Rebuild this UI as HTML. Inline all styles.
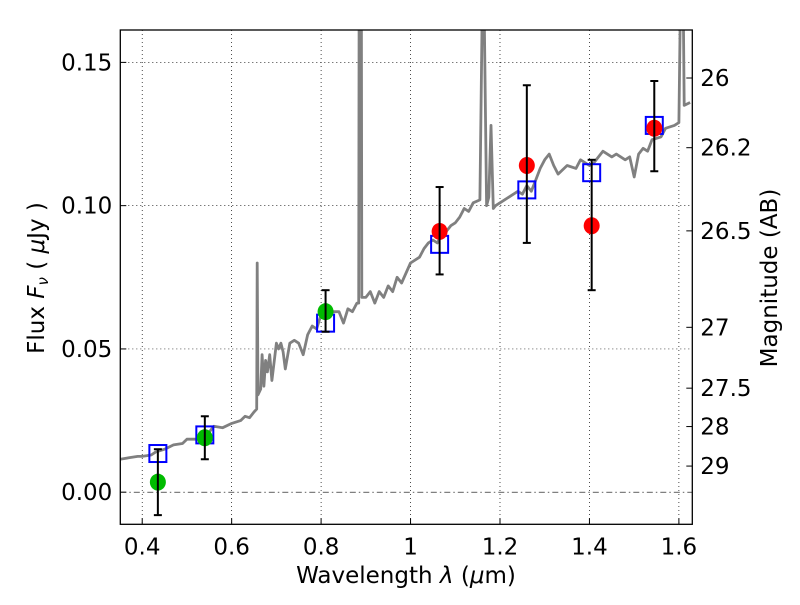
<!DOCTYPE html>
<html><head><meta charset="utf-8"><style>
body{margin:0;background:#fff}
svg text{font-family:"DejaVu Sans","Liberation Sans",sans-serif;fill:#000}
</style></head><body>
<svg id="chart" width="800" height="600" viewBox="0 0 800 600" xmlns="http://www.w3.org/2000/svg">
<rect width="800" height="600" fill="#fff"/>
<g id="grid"></g>
<g id="plot"></g>
<g id="axes"></g>
<text x="406" y="583" font-size="23" text-anchor="middle">Wavelength  <tspan font-style="italic">λ</tspan> (<tspan font-style="italic">μ</tspan>m)</text>
<text transform="translate(44,278) rotate(-90)" font-size="23" text-anchor="middle">Flux  <tspan font-style="italic">F</tspan><tspan font-style="italic" font-size="15" dy="4">ν</tspan><tspan dy="-4">  (  </tspan><tspan font-style="italic">μ</tspan>Jy )</text>
<text transform="translate(777,278) rotate(-90)" font-size="23" text-anchor="middle">Magnitude (AB)</text>
</svg>
<script>
const xTicks=[0.4,0.6,0.8,1.0,1.2,1.4,1.6];
const xTickLabels=["0.4","0.6","0.8","1","1.2","1.4","1.6"];
const yTicks=[0,0.05,0.10,0.15];
const yTickLabels=["0.00","0.05","0.10","0.15"];
const magTicks=[26,26.2,26.5,27,27.5,28,29];
const magTickLabels=["26","26.2","26.5","27","27.5","28","29"];
const bandWave=[0.435,0.54,0.81,1.065,1.26,1.405,1.545];
const obsFlux=[0.0035,0.019,0.063,0.091,0.114,0.093,0.127];
const obsLow=[-0.008,0.0115,0.056,0.076,0.087,0.0705,0.112];
const obsHigh=[0.015,0.0265,0.0705,0.1065,0.142,0.116,0.1435];
const obsColor=["#00bb00","#00bb00","#00bb00","red","red","red","red"];
const modelFlux=[0.0135,0.020,0.059,0.0865,0.1055,0.1115,0.128];
const specWave=[0.35,0.37,0.39,0.40,0.42,0.43,0.45,0.47,0.49,0.50,0.52,0.54,0.55,0.56,0.58,0.60,0.62,0.63,0.64,0.65,0.656,0.657,0.659,0.665,0.668,0.672,0.676,0.68,0.685,0.69,0.70,0.705,0.71,0.715,0.72,0.73,0.74,0.75,0.76,0.77,0.78,0.79,0.80,0.82,0.84,0.85,0.86,0.87,0.88,0.884,0.885,0.890,0.891,0.90,0.91,0.92,0.93,0.94,0.95,0.96,0.97,0.98,1.00,1.02,1.03,1.04,1.05,1.06,1.07,1.08,1.09,1.10,1.11,1.12,1.13,1.14,1.155,1.16,1.165,1.17,1.175,1.18,1.185,1.19,1.20,1.21,1.23,1.24,1.25,1.26,1.27,1.28,1.29,1.30,1.31,1.32,1.33,1.35,1.37,1.38,1.40,1.41,1.43,1.45,1.46,1.48,1.49,1.50,1.51,1.52,1.53,1.54,1.56,1.57,1.59,1.60,1.603,1.61,1.612,1.625];
const specFlux=[0.0115,0.012,0.0125,0.0125,0.013,0.014,0.015,0.0165,0.017,0.0185,0.0185,0.0205,0.021,0.023,0.0225,0.024,0.025,0.0265,0.026,0.028,0.029,0.080,0.034,0.036,0.048,0.037,0.046,0.042,0.048,0.039,0.052,0.050,0.052,0.049,0.043,0.052,0.053,0.052,0.048,0.055,0.058,0.057,0.062,0.063,0.063,0.059,0.064,0.063,0.066,0.066,0.165,0.165,0.068,0.068,0.070,0.066,0.070,0.068,0.072,0.070,0.075,0.073,0.080,0.082,0.085,0.087,0.088,0.087,0.090,0.091,0.093,0.094,0.096,0.099,0.098,0.101,0.102,0.165,0.165,0.100,0.103,0.128,0.099,0.100,0.101,0.102,0.104,0.105,0.104,0.107,0.105,0.109,0.113,0.116,0.118,0.114,0.111,0.114,0.113,0.116,0.114,0.115,0.119,0.117,0.118,0.116,0.117,0.110,0.118,0.120,0.119,0.123,0.124,0.127,0.128,0.129,0.165,0.165,0.135,0.136];

const L=120.3,R=692.3,T=30,B=524.3;
const X0=0.351,X1=1.630,Y0=-0.0112,Y1=0.1613;
function sx(v){return L+(v-X0)/(X1-X0)*(R-L);}
function sy(v){return B-(v-Y0)/(Y1-Y0)*(B-T);}
function magToFlux(m){return Math.pow(10,(23.9-m)/2.5);}
const NS="http://www.w3.org/2000/svg";
function mk(tag,attrs,parent){const e=document.createElementNS(NS,tag);for(const k in attrs)e.setAttribute(k,attrs[k]);parent.appendChild(e);return e;}
const grid=document.getElementById('grid'),plot=document.getElementById('plot'),axes=document.getElementById('axes');

xTicks.forEach((t,i)=>{
  const g=mk('line',{x1:sx(t),x2:sx(t),y1:T,y2:B,stroke:'#000','stroke-width':0.7,'stroke-dasharray':'1,3'},grid);
  
  
  const tk=mk('line',{x1:sx(t),x2:sx(t),y1:B,y2:B-6,stroke:'#000','stroke-width':1},axes);
  
  
  const tl=mk('text',{x:sx(t),y:B+30,'font-size':23,'text-anchor':'middle'},axes);
  tl.textContent=xTickLabels[i];
  
  
});
yTicks.forEach((t,i)=>{
  const g=mk('line',{x1:L,x2:R,y1:sy(t),y2:sy(t),stroke:'#000','stroke-width':0.7,'stroke-dasharray':t===0?'6,3,1.5,3':'1,3'},grid);
  
  
  const tk=mk('line',{x1:L,x2:L+6,y1:sy(t),y2:sy(t),stroke:'#000','stroke-width':1},axes);
  
  
  const tl=mk('text',{x:L-8,y:sy(t)+8,'font-size':23,'text-anchor':'end'},axes);
  tl.textContent=yTickLabels[i];
  
  
});
magTicks.forEach((m,i)=>{
  const y=sy(magToFlux(m));
  const tk=mk('line',{x1:R,x2:R-6,y1:y,y2:y,stroke:'#000','stroke-width':1},axes);
  
  
  const tl=mk('text',{x:R+8,y:y+8,'font-size':23},axes);
  tl.textContent=magTickLabels[i];
  
  
});

const clip=mk('clipPath',{id:'clipplot'},plot);
mk('rect',{x:L,y:T,width:R-L,height:B-T},clip);
const inner=mk('g',{'clip-path':'url(#clipplot)'},plot);
const pts=specWave.map((w,i)=>sx(w).toFixed(1)+','+sy(specFlux[i]).toFixed(1)).join(' ');
const sp=mk('polyline',{points:pts,fill:'none',stroke:'#808080','stroke-width':2.8,'stroke-linejoin':'round'},inner);



bandWave.forEach((w,i)=>{
  const x=sx(w),s=17;
  const sq=mk('rect',{x:x-s/2,y:sy(modelFlux[i])-s/2,width:s,height:s,fill:'none',stroke:'#0000ff','stroke-width':2},inner);
  
  
});
bandWave.forEach((w,i)=>{
  const x=sx(w);
  const c=mk('ellipse',{cx:x,cy:sy(obsFlux[i]),rx:8,ry:8.5,fill:obsColor[i]},inner);
  
  
});
bandWave.forEach((w,i)=>{
  const x=sx(w),y1=sy(obsLow[i]),y2=sy(obsHigh[i]);
  const eb=mk('g',{stroke:'#000','stroke-width':2},inner);
  
  
  mk('line',{x1:x,x2:x,y1:y1,y2:y2},eb);
  mk('line',{x1:x-4,x2:x+4,y1:y1,y2:y1},eb);
  mk('line',{x1:x-4,x2:x+4,y1:y2,y2:y2},eb);
});
const frame=mk('rect',{x:L,y:T,width:R-L,height:B-T,fill:'none',stroke:'#000','stroke-width':1.3},axes);


</script>
</body></html>
